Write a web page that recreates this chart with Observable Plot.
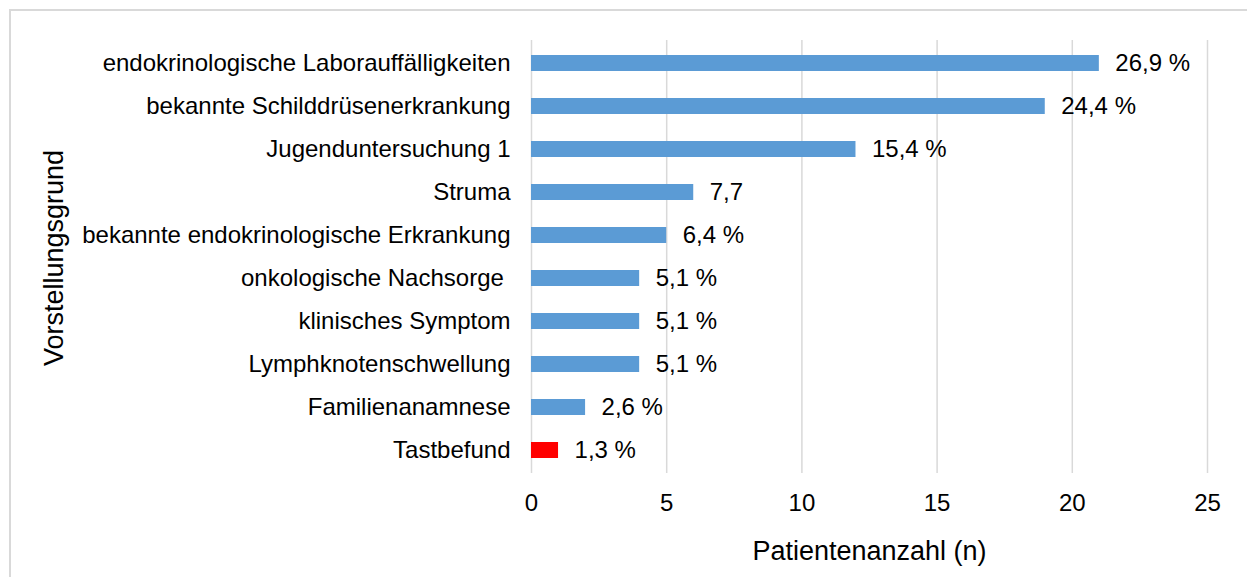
<!DOCTYPE html>
<html>
<head>
<meta charset="utf-8">
<script src="https://cdn.jsdelivr.net/npm/d3@7"></script>
<script src="https://cdn.jsdelivr.net/npm/@observablehq/plot@0.6"></script>
<style>
  html, body { margin: 0; padding: 0; background: #fff; overflow: hidden; }
  #frame { position: absolute; left: 9px; top: 9px; width: 1400px; height: 800px; border: 2px solid #d9d9d9; box-sizing: border-box; }
  #chart { position: absolute; left: 0; top: 0; }
</style>
</head>
<body>
<div id="frame"></div>
<div id="chart"></div>
<script>
const categories = [
  "endokrinologische Laborauffälligkeiten",
  "bekannte Schilddrüsenerkrankung",
  "Jugenduntersuchung 1",
  "Struma",
  "bekannte endokrinologische Erkrankung",
  "onkologische Nachsorge\u00a0",
  "klinisches Symptom",
  "Lymphknotenschwellung",
  "Familienanamnese",
  "Tastbefund"
];
const counts = [21, 19, 12, 6, 5, 4, 4, 4, 2, 1];
const valueLabels = ["26,9 %", "24,4 %", "15,4 %", "7,7", "6,4 %", "5,1 %", "5,1 %", "5,1 %", "2,6 %", "1,3 %"];
const xTicks = [0, 5, 10, 15, 20, 25];
const highlighted = "Tastbefund";
const xTitle = "Patientenanzahl (n)";
const yTitle = "Vorstellungsgrund";

const data = categories.map((c, i) => ({category: c, count: counts[i], label: valueLabels[i]}));
const font = "'Liberation Sans', Arial, sans-serif";

const chart = Plot.plot({
  width: 1247,
  height: 577,
  marginLeft: 531,
  marginRight: 40,
  marginTop: 40,
  marginBottom: 104,
  style: {fontFamily: font, fontSize: "24px", color: "#000", background: "transparent"},
  x: {domain: [0, 25]},
  y: {domain: categories, paddingInner: 0.63, paddingOuter: 0.315},
  marks: [
    Plot.ruleX(xTicks, {stroke: "#d9d9d9", strokeWidth: 1.5}),
    Plot.barX(data, {
      x: "count",
      y: "category",
      fill: d => d.category === highlighted ? "#ff0000" : "#5b9bd5"
    }),
    Plot.text(data, {
      x: "count",
      y: "category",
      text: "label",
      textAnchor: "start",
      dx: 16,
      fill: "#000",
      fontSize: 24
    }),
    Plot.axisX({ticks: xTicks, tickSize: 0, tickPadding: 20, label: null, fontSize: 24, fill: "#000", tickFormat: d => String(d)}),
    Plot.axisY({tickSize: 0, tickPadding: 21, label: null, fontSize: 24, fill: "#000"}),
    Plot.text([xTitle], {text: d => d, frameAnchor: "bottom", lineAnchor: "top", dy: 67, fontSize: 27, fill: "#000"}),
    Plot.text([yTitle], {text: d => d, frameAnchor: "left", textAnchor: "middle", lineAnchor: "bottom", rotate: -90, dx: -469, dy: 1, fontSize: 27, fill: "#000"})
  ]
});
document.getElementById("chart").appendChild(chart);
</script>
</body>
</html>
